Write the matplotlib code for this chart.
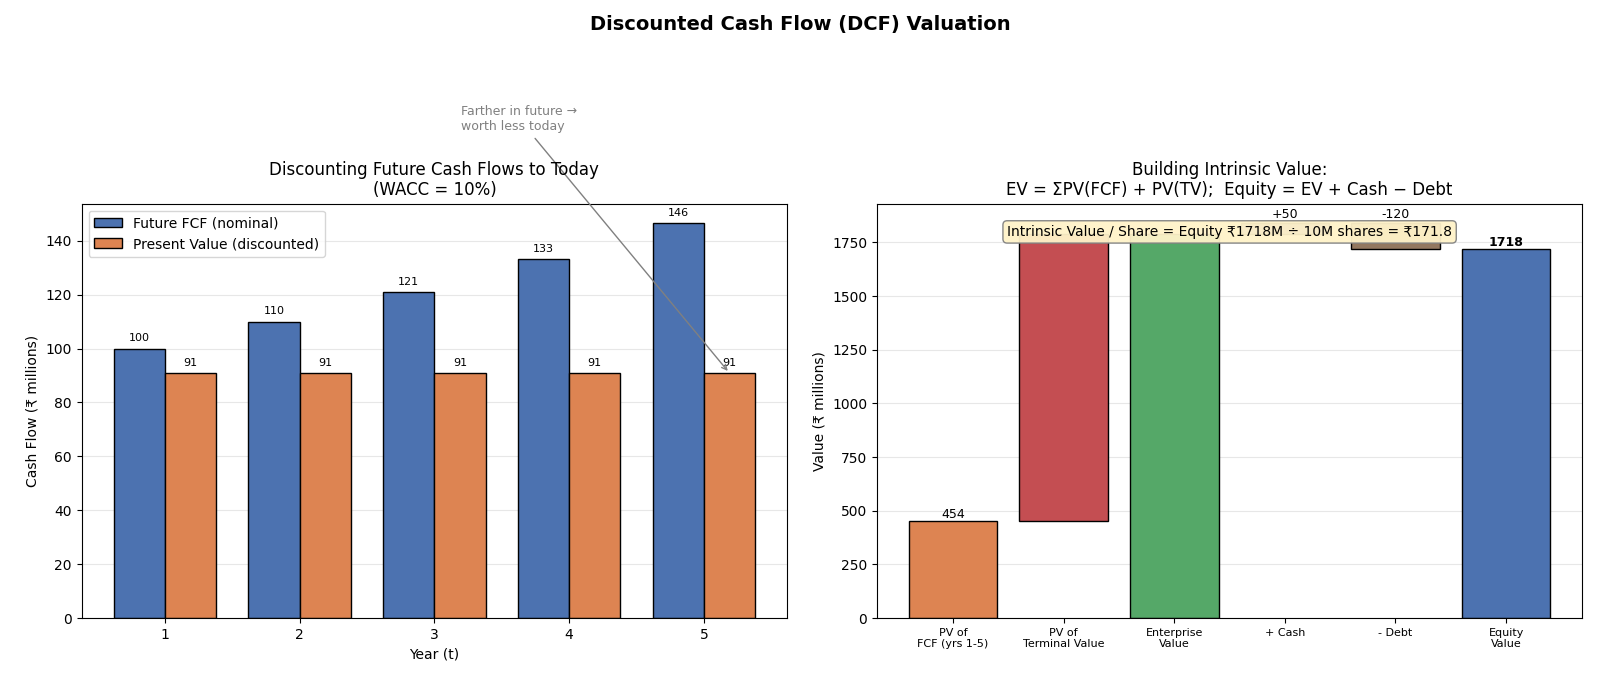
import matplotlib
matplotlib.use('Agg')
import matplotlib.pyplot as plt
import numpy as np

# left panel data
years = [1, 2, 3, 4, 5]
fcf_nominal = [100, 110, 121, 133.1, 146.41]
pv_discounted = [90.9, 90.9, 90.9, 90.9, 90.9]

# right panel data (waterfall)
steps = ['PV of\nFCF (yrs 1-5)', 'PV of\nTerminal Value', 'Enterprise\nValue',
         '+ Cash', '- Debt', 'Equity\nValue']
pv_fcf = 454
pv_tv = 1334
cash = 50
debt = 120
shares = 10

blue, orange, green, red, brown, purple = '#4C72B0', '#DD8452', '#55A868', '#C44E52', '#937860', '#8172B3'

fig = plt.figure(figsize=(16, 6.86), dpi=100)
ax1 = fig.add_axes([0.051, 0.099, 0.441, 0.604])
ax2 = fig.add_axes([0.548, 0.099, 0.441, 0.604])
fig.suptitle('Discounted Cash Flow (DCF) Valuation', fontsize=14, fontweight='bold', y=0.978)

# --- left: nominal vs discounted ---
x = np.array(years)
w = 0.38
b1 = ax1.bar(x - w / 2, fcf_nominal, w, color=blue, edgecolor='black', label='Future FCF (nominal)')
b2 = ax1.bar(x + w / 2, pv_discounted, w, color=orange, edgecolor='black', label='Present Value (discounted)')
for bar, v in zip(b1, fcf_nominal):
    ax1.text(bar.get_x() + bar.get_width() / 2, v + 2, f'{v:.0f}', ha='center', va='bottom', fontsize=8)
for bar, v in zip(b2, pv_discounted):
    ax1.text(bar.get_x() + bar.get_width() / 2, v + 2, f'{v:.0f}', ha='center', va='bottom', fontsize=8)
ax1.set_xticks(years)
ax1.set_ylim(0, max(fcf_nominal) * 1.05)
ax1.set_xlabel('Year (t)')
ax1.set_ylabel('Cash Flow (₹ millions)')
ax1.set_title('Discounting Future Cash Flows to Today\n(WACC = 10%)', fontsize=12)
ax1.legend(loc='upper left', fontsize=10)
ax1.grid(axis='y', alpha=0.3)
ax1.set_axisbelow(True)
ax1.annotate('Farther in future →\nworth less today', xy=(5 + 0.19, pv_discounted[-1]),
             xytext=(3.2, 185), ha='left', va='center', fontsize=9, color='gray',
             arrowprops=dict(arrowstyle='->', color='gray'), annotation_clip=False)

# --- right: waterfall ---
ev = pv_fcf + pv_tv
equity = ev + cash - debt
bottoms = [0, pv_fcf, 0, ev, equity, 0]
heights = [pv_fcf, pv_tv, ev, cash, debt, equity]
colors = [orange, red, green, purple, brown, blue]
pos = np.arange(len(steps))
ax2.bar(pos, heights, 0.8, bottom=bottoms, color=colors, edgecolor='black')
ax2.text(0, pv_fcf, f'{pv_fcf}', ha='center', va='bottom', fontsize=9)
ax2.text(3, ev + cash + 10, f'+{cash}', ha='center', va='bottom', fontsize=9)
ax2.text(4, ev + cash + 10, f'-{debt}', ha='center', va='bottom', fontsize=9)
ax2.text(5, equity, f'{equity}', ha='center', va='bottom', fontsize=9, fontweight='bold')
ax2.set_xticks(pos)
ax2.set_xticklabels(steps, fontsize=8)
ax2.set_ylim(0, (ev + cash) * 1.05)
ax2.set_ylabel('Value (₹ millions)')
ax2.set_title('Building Intrinsic Value:\nEV = ΣPV(FCF) + PV(TV);  Equity = EV + Cash − Debt', fontsize=12)
ax2.grid(axis='y', alpha=0.3)
ax2.set_axisbelow(True)
ax2.text(0.5, 0.932, f'Intrinsic Value / Share = Equity ₹{equity}M ÷ {shares}M shares = ₹{equity / shares:.1f}',
         transform=ax2.transAxes, ha='center', va='center', fontsize=10, zorder=10,
         bbox=dict(boxstyle='round', facecolor='#FFF3C9', edgecolor='gray', alpha=0.95))

fig.savefig('out.png', dpi=100)
plt.close(fig)
